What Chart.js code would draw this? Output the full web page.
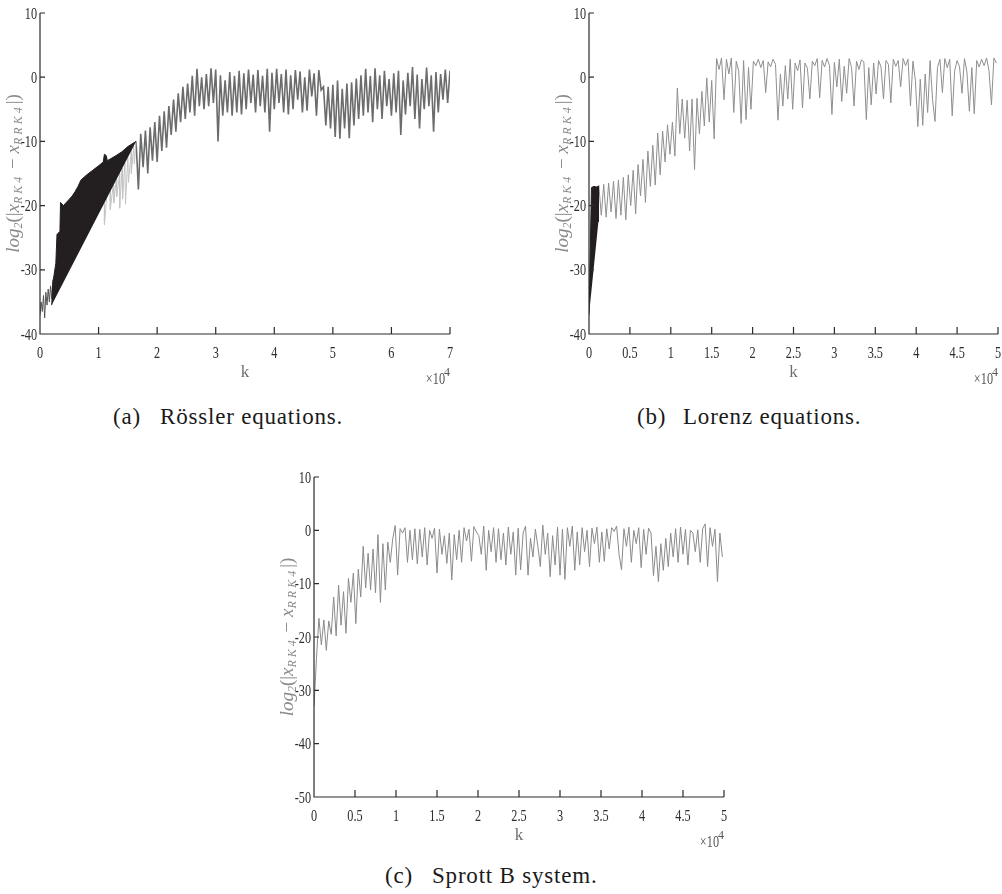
<!DOCTYPE html>
<html lang="en">
<head>
<meta charset="UTF-8">
<script src="https://cdn.jsdelivr.net/npm/chart.js"></script>
<title>log2 error of RK4 vs RRK4</title>
<style>
    body { margin: 0; background: #fff; width: 1002px; height: 894px; position: relative; overflow: hidden; }
    canvas { position: absolute; }
    .cap { position: absolute; font-family: "Liberation Serif", serif; font-size: 23px; color: #1a1a1a; white-space: pre; letter-spacing: 0.8px; line-height: 23px; }
</style>
</head>
<body>
<canvas id="rossler" width="470" height="400" style="left:0;top:0"></canvas>
<canvas id="lorenz" width="457" height="400" style="left:545px;top:0"></canvas>
<canvas id="sprott" width="470" height="403" style="left:270px;top:460px"></canvas>

<div class="cap" style="left:113px;top:405px">(a)</div>
<div class="cap" style="left:160px;top:405px">Rössler equations.</div>
<div class="cap" style="left:637px;top:405px">(b)</div>
<div class="cap" style="left:683px;top:405px">Lorenz equations.</div>
<div class="cap" style="left:385px;top:864px">(c)</div>
<div class="cap" style="left:432px;top:864px">Sprott B system.</div>

<script>
// k is in units of 10^4 steps, values are log2(|x_RK4 - x_RRK4|)

// ---- (a) Rössler ----
const rosslerXTicks = ['0', '1', '2', '3', '4', '5', '6', '7'];
const rosslerYTicks = ['-40', '-30', '-20', '-10', '0', '10'];

const rosslerEarlyStart = 0, rosslerEarlyStep = 0.02;
const rosslerEarly = [-37, -35, -36.5, -34, -37.5, -33.5, -35.5, -33, -35, -32.5, -34.5, -31.5];

// outline of the dense black wedge (upper edge, then closes back along the lower edge)
const rosslerWedgeK = [0.2, 0.22, 0.27, 0.29, 0.34, 0.35, 0.4, 0.45, 0.5, 0.55, 0.6, 0.65, 0.7, 0.8, 0.9, 1.0, 1.08, 1.1, 1.13, 1.15, 1.3, 1.4, 1.5, 1.64];
const rosslerWedgeY = [-35.5, -32, -29, -24.5, -24, -19.5, -20, -19.5, -19, -18.5, -17.8, -17, -16, -15.2, -14.5, -13.8, -13.2, -12, -12.2, -13, -12.2, -11.6, -10.8, -10];

// light spikes under the wedge
const rosslerLightK = [1.1, 1.1, 1.14, 1.2, 1.2, 1.25, 1.26, 1.3, 1.31, 1.36, 1.36, 1.4, 1.41, 1.45, 1.46, 1.5, 1.51, 1.56, 1.56, 1.6, 1.61, 1.64];
const rosslerLightY = [-19.5, -23, -18.5, -17.6, -20.6, -16.8, -19.6, -15.9, -18.6, -15, -20.4, -14.2, -19, -13.3, -19.8, -12.4, -16.4, -11.3, -15, -10.7, -13.5, -10];

const rosslerStart = 1.64, rosslerStep = 0.04;
const rosslerErr = [
    -10, -17.5, -8.8, -14, -8.3, -15, -7.8, -13, -7, -13.2, -6, -11.5, -5.3, -11, -4.5, -9,
    -3.5, -8.5, -2.5, -7, -1.5, -6.5, -1, -5.5, 0.2, -6, 1.3, -4.5, 0, -5, 0.5, -4.5,
    1.4, -4, 1.2, -10, 0.3, -6, -0.5, -5.5, 0.8, -6, 0.2, -5.5, 1.0, -5.8, 0.6, -5,
    1.2, -4, 0.4, -5.5, 1.1, -4.5, 0.2, -5.5, 1.3, -8.5, 0.7, -5, 1.3, -4, 0.5, -5.5,
    1.2, -5.8, 0.3, -5, 1.1, -3.5, 0.9, -5.5, 0, -5.2, 1.2, -3, 0.6, -6, 1.1, -2,
    -1.5, -7.5, -1.5, -8, -1.2, -9.3, -0.5, -9.6, -1.8, -8, -1, -9.5, -0.8, -7.5, -0.2, -6.5,
    0.3, -6, 1.3, -5.5, 0.2, -7, 1.4, -5, 0.3, -6.5, 1.0, -4.5, -0.3, -6, 0.6, -5.5,
    1.0, -9, -0.5, -5.8, 0.7, -4.5, 1.6, -6.5, 0.4, -8, -0.3, -5, 1.5, -4.5, 0.3, -8.5,
    0.8, -5.5, 0.5, -3.5, 1.2, -4, 1.0
];

// ---- (b) Lorenz ----
const halfXTicks = ['0', '0.5', '1', '1.5', '2', '2.5', '3', '3.5', '4', '4.5', '5'];
const lorenzYTicks = ['-40', '-30', '-20', '-10', '0', '10'];

const lorenzWedgeK = [0, 0.03, 0.06, 0.09, 0.115, 0.115];
const lorenzWedgeY = [-37, -17.2, -17, -17.1, -17, -22.5];

const lorenzStart = 0.12, lorenzStep = 0.03;
const lorenzErr = [
    -16.8, -21.5, -16.7, -21.8, -16.5, -21, -16.2, -22, -16, -21.5, -15.6, -22.2, -15.2, -20, -14.5, -21.3,
    -13.6, -18.5, -12.8, -19.5, -11.5, -17, -10.6, -16.8, -8.7, -15.2, -8.4, -13.2, -7.4, -12, -7, -12.3,
    -1.7, -8.8, -3.4, -9.5, -3.6, -11.5, -3.4, -14.4, -3.3, -8.8, -2.2, -7.6, -0.1, -7, -0.5, -9.6,
    2.9, 1.2, 3.0, -3.5, 2.8, 0.5, 3.0, -5.5, 2.5, 1.0, -7.2, 2.6, -6.6, 1.5, -5, 2.5,
    1.8, 2.8, 1.5, 2.6, -2.4, 2.4, 1.6, 2.8, 2.0, -6.7, 0.5, -4.5, 1.8, -3.4, 2.8, -5,
    2.2, 1.0, 2.7, -4.8, 2.2, 1.4, -3.4, 2.5, 1.8, 2.9, -3.2, 2.6, 1.6, 2.9, 1.8, -5.8,
    2.3, -1.5, 2.8, -3.8, 1.7, -2.5, 2.9, 1.5, -4.5, 2.5, 1.2, 2.7, 2.4, -6.6, 1.5, -4.3,
    2.2, -2.6, 2.6, 1.6, -3.4, 2.6, 2.0, -4, 2.8, 1.7, 2.6, -1.5, 2.9, 1.8, 2.8, -4.5,
    2.5, -0.5, -7.7, -0.3, -7.5, 0.5, -5.5, 2.6, -3.5, -6.9, 1.5, 2.8, -2.4, 2.9, 1.5, 2.8,
    -6, 1.0, 2.6, 1.6, -2.5, 2.9, 0.8, -5.3, 1.5, -5.7, 2.6, 1.6, 2.8, 1.8, 3.0, 1.0,
    -4.3, 3.0, 2.2
];

// ---- (c) Sprott B ----
const sprottYTicks = ['-50', '-40', '-30', '-20', '-10', '0', '10'];

const sprottStart = 0, sprottStep = 0.03;
const sprottErr = [
    -33, -24, -16.5, -21.5, -16.8, -22.5, -17, -19.5, -12.5, -19.8, -10.3, -17.8, -11.5, -19.3, -9, -13.5,
    -8, -17.5, -7.3, -12.5, -3, -10.8, -4.3, -11.2, -3.5, -11.7, -0.8, -13.5, -2.5, -11.2, -2.2, -6,
    -1.6, 0.9, -8.4, 0.3, -0.5, 0.5, -6, 0, -5.5, 0.3, -6.3, 0.2, -5, 0.5, -6.5, 0,
    -1.5, 0.4, -8, 0.2, -4.5, -1, -6.2, -0.5, -9.3, -0.8, -5.5, 0, -6, 0.5, -2, 0.2,
    -5.8, 0.7, -0.3, -1, -4.5, 0.8, -7.5, 0, -4, 0.5, -6, 0.3, -5.5, -0.5, -6.5, 0.6,
    -4.5, -0.3, -8.4, 0.4, -7.4, -0.5, 0.8, -8.4, -1.5, -5, 0.2, -3, -6.8, 1, -4.5, -0.5,
    -8.7, -1, -6.5, 0.6, -8.4, 0.2, -9.2, 0.5, -3, 0.8, -7.5, -0.3, -6.5, 0.5, -4, 0,
    -6.8, 0.4, -2.5, 0.6, -6, -0.3, -5.8, 0.3, -3.5, 0.5, -0.2, 0.8, -4.5, -7.4, 0.3, -3,
    0.6, -6, 0, -2.5, 0.5, -7, 0.2, -4.5, 0.4, -0.5, -8.5, -3, -9.6, -2.5, -7.5, -1.5,
    -6.8, -0.5, -5, 0.3, -6, 0.6, -4.5, 0.2, -6.5, 0, -0.5, -4, 0.1, -6, 0.3, 1.2,
    -6.8, 0.5, -3, 0.2, -9.6, -0.5, -5
];

const serif = '"Liberation Serif", serif';

function stepped(start, step, values) {
    return values.map((v, i) => ({ x: start + i * step, y: v }));
}
function paired(ks, ys) {
    return ks.map((k, i) => ({ x: k, y: ys[i] }));
}

// condensed text, like the narrow Times labels of the figure
function narrowText(ctx, text, x, y, align) {
    const sx = 0.72;
    const w = ctx.measureText(text).width * sx;
    const left = align === 'right' ? x - w : align === 'center' ? x - w / 2 : x;
    ctx.save();
    ctx.translate(left, y);
    ctx.scale(sx, 1);
    ctx.textAlign = 'left';
    ctx.fillText(text, 0, 0);
    ctx.restore();
}

// MATLAB-like axes: left/bottom lines, inward ticks, tick labels, "k", x10^4 and the y label with subscripts
const matlabAxes = {
    id: 'matlabAxes',
    afterDraw(chart, args, opts) {
        const { ctx, chartArea: a } = chart;
        const xs = chart.scales.x, ys = chart.scales.y;
        ctx.save();
        ctx.strokeStyle = '#2b2b2b';
        ctx.lineWidth = 1.2;
        ctx.beginPath();
        ctx.moveTo(a.left, a.top);
        ctx.lineTo(a.left, a.bottom);
        ctx.lineTo(a.right, a.bottom);
        xs.ticks.forEach(t => {
            const px = xs.getPixelForValue(t.value);
            ctx.moveTo(px, a.bottom);
            ctx.lineTo(px, a.bottom - 7);
        });
        ys.ticks.forEach(t => {
            const py = ys.getPixelForValue(t.value);
            ctx.moveTo(a.left, py);
            ctx.lineTo(a.left + 5, py);
        });
        ctx.stroke();

        ctx.fillStyle = '#2e2e2e';
        ctx.font = '17px ' + serif;
        ctx.textBaseline = 'alphabetic';
        xs.ticks.forEach((t, i) => {
            narrowText(ctx, opts.xLabels[i], xs.getPixelForValue(t.value), a.bottom + 24, 'center');
        });
        ys.ticks.forEach((t, i) => {
            narrowText(ctx, opts.yLabels[i], a.left - 3, ys.getPixelForValue(t.value) + 5.6, 'right');
        });

        ctx.fillStyle = '#6e6e6e';
        ctx.textBaseline = 'middle';
        ctx.textAlign = 'center';
        ctx.font = '17px ' + serif;
        ctx.fillText('k', (a.left + a.right) / 2, a.bottom + 39);

        ctx.fillStyle = '#555';
        ctx.textBaseline = 'alphabetic';
        ctx.textAlign = 'right';
        ctx.font = '12px ' + serif;
        const supW = ctx.measureText('4').width;
        ctx.fillText('4', a.right, a.bottom + 42);
        ctx.font = '17px ' + serif;
        narrowText(ctx, '\u00d710', a.right - supW + 1, a.bottom + 50, 'right');

        // rotated y label
        const parts = [
            ['log', 'italic 19px', 0, 0], ['2', 'italic 12px', 3, 0], ['(|', '19px', 0, 0],
            ['x', 'italic 19px', 0, 0], ['RK4', 'italic 12px', 3, 3], [' \u2212 ', '19px', 0, 0],
            ['x', 'italic 19px', 0, 0], ['RRK4', 'italic 12px', 3, 3], ['|)', '19px', 0, 0]
        ];
        let total = 0;
        parts.forEach(p => {
            ctx.font = p[1] + ' ' + serif;
            ctx.letterSpacing = p[3] + 'px';
            p.push(ctx.measureText(p[0]).width);
            total += p[4];
        });
        ctx.translate(a.left - 24, (a.top + a.bottom) / 2);
        ctx.rotate(-Math.PI / 2);
        ctx.textAlign = 'left';
        ctx.fillStyle = '#8a8a8a';
        let cx = -total / 2;
        parts.forEach(p => {
            ctx.font = p[1] + ' ' + serif;
            ctx.letterSpacing = p[3] + 'px';
            ctx.fillText(p[0], cx, 3 + p[2]);
            cx += p[4];
        });
        ctx.restore();
    }
};

function makeChart(id, datasets, xMax, xStep, xLabels, yMin, yLabels, yWidth, padTop, padRight) {
    new Chart(document.getElementById(id), {
        type: 'line',
        data: { datasets },
        options: {
            responsive: false,
            animation: false,
            events: [],
            layout: { padding: { top: padTop, right: padRight, left: 0, bottom: 0 } },
            plugins: {
                legend: { display: false },
                tooltip: { enabled: false },
                matlabAxes: { xLabels, yLabels }
            },
            elements: { point: { radius: 0 }, line: { borderWidth: 1, tension: 0 } },
            scales: {
                x: {
                    type: 'linear', min: 0, max: xMax,
                    grid: { display: false, drawTicks: false },
                    border: { display: false },
                    ticks: { stepSize: xStep, autoSkip: false, display: false },
                    afterFit: s => { s.height = 66; }
                },
                y: {
                    min: yMin, max: 10,
                    grid: { display: false, drawTicks: false },
                    border: { display: false },
                    ticks: { stepSize: 10, autoSkip: false, display: false },
                    afterFit: s => { s.width = yWidth; }
                }
            }
        },
        plugins: [matlabAxes]
    });
}

makeChart('rossler', [
    { data: paired(rosslerWedgeK, rosslerWedgeY), borderColor: '#231f20', backgroundColor: '#231f20', fill: 'shape' },
    { data: stepped(rosslerEarlyStart, rosslerEarlyStep, rosslerEarly), borderColor: '#555555' },
    { data: paired(rosslerLightK, rosslerLightY), borderColor: '#c4c4c4' },
    { data: stepped(rosslerStart, rosslerStep, rosslerErr), borderColor: '#6c6c6c', borderWidth: 1.6 }
], 7, 1, rosslerXTicks, -40, rosslerYTicks, 40, 13, 20);

makeChart('lorenz', [
    { data: paired(lorenzWedgeK, lorenzWedgeY), borderColor: '#231f20', backgroundColor: '#231f20', fill: 'shape' },
    { data: stepped(lorenzStart, lorenzStep, lorenzErr), borderColor: '#8f8f8f' }
], 5, 0.5, halfXTicks, -40, lorenzYTicks, 44, 13, 4);

makeChart('sprott', [
    { data: stepped(sprottStart, sprottStep, sprottErr), borderColor: '#8a8a8a' }
], 5, 0.5, halfXTicks, -50, sprottYTicks, 44, 17, 16);
</script>
</body>
</html>
